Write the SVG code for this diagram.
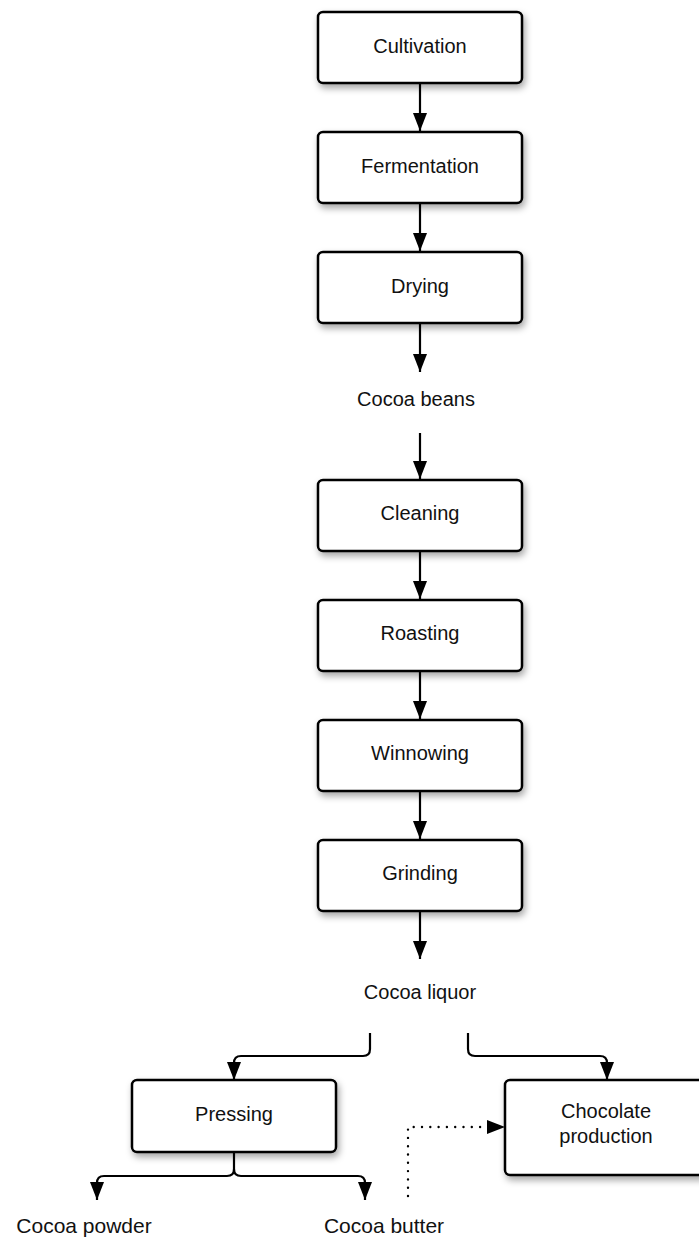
<svg xmlns="http://www.w3.org/2000/svg" width="699" height="1240" viewBox="0 0 699 1240">
  <style>
    .box { fill: #ffffff; stroke: #000000; stroke-width: 2.5; filter: url(#shadow); }
    .lbl { font-family: "Liberation Sans", Arial, sans-serif; font-size: 20px; fill: #111111; text-anchor: middle; }
    .edge { fill: none; stroke: #000000; stroke-width: 2.2; marker-end: url(#arrow); }
    .dotted { fill: none; stroke: #000000; stroke-width: 2.4; stroke-dasharray: 0 8.3; stroke-linecap: round; marker-end: url(#arrow); }
  </style>
  <defs>
    <filter id="shadow" x="-20%" y="-20%" width="140%" height="160%">
      <feDropShadow dx="2" dy="4" stdDeviation="3.5" flood-color="#000000" flood-opacity="0.35"/>
    </filter>
    <marker id="arrow" viewBox="0 0 18 14" markerWidth="18" markerHeight="14" refX="18" refY="7" orient="auto" markerUnits="userSpaceOnUse">
      <path d="M0,0 L18,7 L0,14 z" fill="#000000"/>
    </marker>
  </defs>
  <rect width="699" height="1240" fill="#ffffff"/>

  <!-- connectors -->
  <g id="connectors">
    <path class="edge" d="M420,84 V131"/>
    <path class="edge" d="M420,204 V251"/>
    <path class="edge" d="M420,324 V372"/>
    <path class="edge" d="M420,433 V479"/>
    <path class="edge" d="M420,552 V599"/>
    <path class="edge" d="M420,672 V719"/>
    <path class="edge" d="M420,792 V839"/>
    <path class="edge" d="M420,912 V959"/>
    <path class="edge" d="M370,1033 V1049 Q370,1056 363,1056 H241 Q234,1056 234,1063 V1080"/>
    <path class="edge" d="M468,1033 V1049 Q468,1056 475,1056 H600 Q607,1056 607,1063 V1080"/>
    <path class="edge" d="M234,1152 V1169 Q234,1176 227,1176 H104 Q97,1176 97,1183 V1200"/>
    <path class="edge" d="M234,1169 Q234,1176 241,1176 H358 Q365,1176 365,1183 V1200"/>
    <path class="dotted" d="M408,1196 V1127 H505"/>
  </g>

  <!-- process steps -->
  <g id="cultivation">
    <rect class="box" x="318" y="12" width="204" height="71" rx="5"/>
    <text class="lbl" x="420" y="53">Cultivation</text>
  </g>
  <g id="fermentation">
    <rect class="box" x="318" y="132" width="204" height="71" rx="5"/>
    <text class="lbl" x="420" y="173">Fermentation</text>
  </g>
  <g id="drying">
    <rect class="box" x="318" y="252" width="204" height="71" rx="5"/>
    <text class="lbl" x="420" y="293">Drying</text>
  </g>
  <g id="cocoa-beans">
    <text class="lbl" x="416" y="406">Cocoa beans</text>
  </g>
  <g id="cleaning">
    <rect class="box" x="318" y="480" width="204" height="71" rx="5"/>
    <text class="lbl" x="420" y="520">Cleaning</text>
  </g>
  <g id="roasting">
    <rect class="box" x="318" y="600" width="204" height="71" rx="5"/>
    <text class="lbl" x="420" y="640">Roasting</text>
  </g>
  <g id="winnowing">
    <rect class="box" x="318" y="720" width="204" height="71" rx="5"/>
    <text class="lbl" x="420" y="760">Winnowing</text>
  </g>
  <g id="grinding">
    <rect class="box" x="318" y="840" width="204" height="71" rx="5"/>
    <text class="lbl" x="420" y="880">Grinding</text>
  </g>
  <g id="cocoa-liquor">
    <text class="lbl" x="420" y="999">Cocoa liquor</text>
  </g>
  <g id="pressing">
    <rect class="box" x="132" y="1080" width="204" height="72" rx="5"/>
    <text class="lbl" x="234" y="1121">Pressing</text>
  </g>
  <g id="chocolate-production">
    <rect class="box" x="505" y="1080" width="204" height="95" rx="5"/>
    <text class="lbl" x="606" y="1118">Chocolate</text>
    <text class="lbl" x="606" y="1143">production</text>
  </g>
  <g id="cocoa-powder">
    <text class="lbl" x="84" y="1233" style="font-size:21px">Cocoa powder</text>
  </g>
  <g id="cocoa-butter">
    <text class="lbl" x="384" y="1233" style="font-size:21px">Cocoa butter</text>
  </g>
</svg>
